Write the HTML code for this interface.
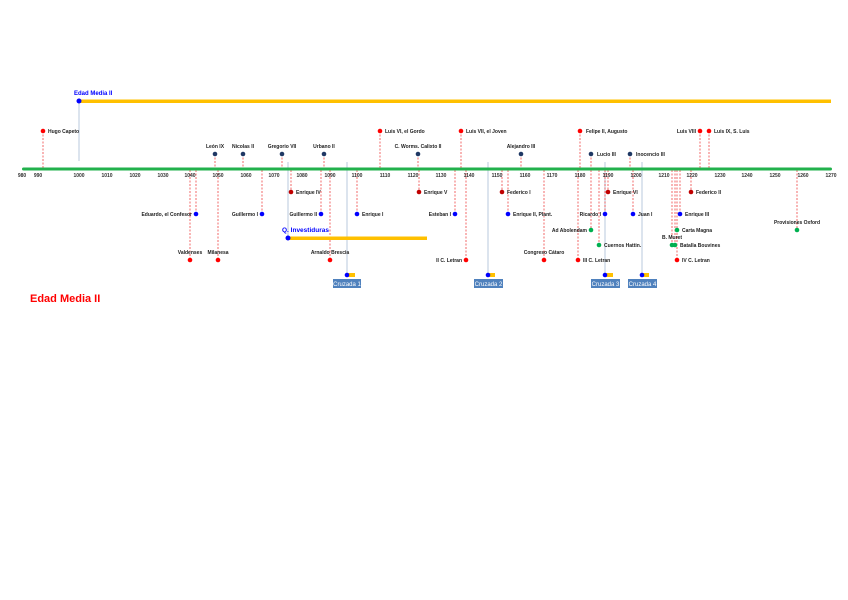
<!DOCTYPE html>
<html><head><meta charset="utf-8"><style>
html,body{margin:0;padding:0;background:#fff;}
svg{display:block;}
text{font-family:"Liberation Sans",sans-serif;font-size:5px;fill:#222;font-weight:bold;}
.ax{font-size:5px;fill:#333;}
.d{stroke:#ee4444;stroke-width:0.8;stroke-dasharray:2,1.5;fill:none;}
.g{stroke:#b8c8dc;stroke-width:1;}
</style></head><body>
<svg width="848" height="600" viewBox="0 0 848 600" xmlns="http://www.w3.org/2000/svg">
<rect width="848" height="600" fill="#fff"/>
<!-- gray vertical lines -->
<line class="g" x1="79" y1="101" x2="79" y2="161"/>
<line class="g" x1="288" y1="162" x2="288" y2="238"/>
<line class="g" x1="347" y1="162" x2="347" y2="275"/>
<line class="g" x1="488" y1="162" x2="488" y2="275"/>
<line class="g" x1="605" y1="162" x2="605" y2="275"/>
<line class="g" x1="642" y1="162" x2="642" y2="275"/>
<!-- dashed lines above -->
<g class="d">
<path d="M43 131V168M215 154V168M243 154V168M282 154V168M324 154V168M380 131V168M418 154V168M461 131V168M521 154V168M580 131V168M591 154V168M630 154V168M700 131V168M709 131V168"/>
<!-- below -->
<path d="M291 170V192M196 170V214M262 170V214M321 170V214M357 170V214M455 170V214M508 170V214M605 170V214M633 170V214M680 170V214"/>
<path d="M419 170V192M502 170V192M608 170V192M691 170V192"/>
<path d="M190 170V260M218 170V260M330 170V260M466 170V260M544 170V260M578 170V260M677 170V260"/>
<path d="M591 170V230M599 170V245M672 170V245M675 170V245M797 170V230"/>
</g>
<!-- timeline -->
<rect x="22" y="167.5" width="810" height="3" rx="1.5" fill="#22b14c"/>
<g class="ax" text-anchor="middle">
<text class="ax" x="22" y="177">980</text><text class="ax" x="38" y="177">990</text><text class="ax" x="79" y="177">1000</text><text class="ax" x="107" y="177">1010</text><text class="ax" x="135" y="177">1020</text><text class="ax" x="163" y="177">1030</text><text class="ax" x="190" y="177">1040</text><text class="ax" x="218" y="177">1050</text><text class="ax" x="246" y="177">1060</text><text class="ax" x="274" y="177">1070</text><text class="ax" x="302" y="177">1080</text><text class="ax" x="330" y="177">1090</text><text class="ax" x="357" y="177">1100</text><text class="ax" x="385" y="177">1110</text><text class="ax" x="413" y="177">1120</text><text class="ax" x="441" y="177">1130</text><text class="ax" x="469" y="177">1140</text><text class="ax" x="497" y="177">1150</text><text class="ax" x="525" y="177">1160</text><text class="ax" x="552" y="177">1170</text><text class="ax" x="580" y="177">1180</text><text class="ax" x="608" y="177">1190</text><text class="ax" x="636" y="177">1200</text><text class="ax" x="664" y="177">1210</text><text class="ax" x="692" y="177">1220</text><text class="ax" x="720" y="177">1230</text><text class="ax" x="747" y="177">1240</text><text class="ax" x="775" y="177">1250</text><text class="ax" x="803" y="177">1260</text><text class="ax" x="831" y="177">1270</text>
</g>
<!-- orange bars -->
<rect x="79" y="99.5" width="752" height="3.5" fill="#ffc000"/>
<rect x="288" y="236.5" width="139" height="3.5" fill="#ffc000"/>
<rect x="347" y="273" width="8" height="4" fill="#ffc000"/>
<rect x="488" y="273" width="7" height="4" fill="#ffc000"/>
<rect x="605" y="273" width="8" height="4" fill="#ffc000"/>
<rect x="642" y="273" width="7" height="4" fill="#ffc000"/>
<!-- dots -->
<g fill="#ff0000">
<circle cx="43" cy="131" r="2.3"/><circle cx="380" cy="131" r="2.3"/><circle cx="461" cy="131" r="2.3"/><circle cx="580" cy="131" r="2.3"/><circle cx="700" cy="131" r="2.3"/><circle cx="709" cy="131" r="2.3"/>
<circle cx="190" cy="260" r="2.3"/><circle cx="218" cy="260" r="2.3"/><circle cx="330" cy="260" r="2.3"/><circle cx="466" cy="260" r="2.3"/><circle cx="544" cy="260" r="2.3"/><circle cx="578" cy="260" r="2.3"/><circle cx="677" cy="260" r="2.3"/>
</g>
<g fill="#c00000">
<circle cx="291" cy="192" r="2.3"/><circle cx="419" cy="192" r="2.3"/><circle cx="502" cy="192" r="2.3"/><circle cx="608" cy="192" r="2.3"/><circle cx="691" cy="192" r="2.3"/>
</g>
<g fill="#1f3864">
<circle cx="215" cy="154" r="2.3"/><circle cx="243" cy="154" r="2.3"/><circle cx="282" cy="154" r="2.3"/><circle cx="324" cy="154" r="2.3"/><circle cx="418" cy="154" r="2.3"/><circle cx="521" cy="154" r="2.3"/><circle cx="591" cy="154" r="2.3"/><circle cx="630" cy="154" r="2.3"/>
</g>
<g fill="#0000ff">
<circle cx="79" cy="101" r="2.5"/><circle cx="288" cy="238" r="2.5"/>
<circle cx="196" cy="214" r="2.3"/><circle cx="262" cy="214" r="2.3"/><circle cx="321" cy="214" r="2.3"/><circle cx="357" cy="214" r="2.3"/><circle cx="455" cy="214" r="2.3"/><circle cx="508" cy="214" r="2.3"/><circle cx="605" cy="214" r="2.3"/><circle cx="633" cy="214" r="2.3"/><circle cx="680" cy="214" r="2.3"/>
<circle cx="347" cy="275" r="2.3"/><circle cx="488" cy="275" r="2.3"/><circle cx="605" cy="275" r="2.3"/><circle cx="642" cy="275" r="2.3"/>
</g>
<g fill="#00b050">
<circle cx="591" cy="230" r="2.3"/><circle cx="599" cy="245" r="2.3"/><circle cx="677" cy="230" r="2.3"/><circle cx="672" cy="245" r="2.3"/><circle cx="675" cy="245" r="2.3"/><circle cx="797" cy="230" r="2.3"/>
</g>
<!-- labels -->
<text x="74" y="95" style="font-size:6px;fill:#0000ff">Edad Media II</text>
<text x="48" y="133">Hugo Capeto</text>
<text x="385" y="133">Luis VI, el Gordo</text>
<text x="466" y="133">Luis VII, el Joven</text>
<text x="586" y="133">Felipe II, Augusto</text>
<text x="696" y="133" text-anchor="end">Luis VIII</text>
<text x="714" y="133">Luis IX, S. Luis</text>
<g text-anchor="middle">
<text x="215" y="148">León IX</text><text x="243" y="148">Nicolas II</text><text x="282" y="148">Gregorio VII</text><text x="324" y="148">Urbano II</text><text x="418" y="148">C. Worms. Calixto II</text><text x="521" y="148">Alejandro III</text>
<text x="190" y="254">Valdenses</text><text x="218" y="254">Milanesa</text><text x="330" y="254">Arnaldo Brescia</text><text x="544" y="254">Congreso Cátaro</text><text x="797" y="224">Provisiones Oxford</text><text x="672" y="239">B. Muret</text>
</g>
<text x="597" y="156">Lucio III</text>
<text x="636" y="156">Inocencio III</text>
<text x="296" y="194">Enrique IV</text>
<text x="424" y="194">Enrique V</text>
<text x="507" y="194">Federico I</text>
<text x="613" y="194">Enrique VI</text>
<text x="696" y="194">Federico II</text>
<g text-anchor="end">
<text x="192" y="216">Eduardo, el Confesor</text><text x="258" y="216">Guillermo I</text><text x="317" y="216">Guillermo II</text><text x="451" y="216">Esteban I</text><text x="601" y="216">Ricardo I</text><text x="587" y="232">Ad Abolendam</text><text x="462" y="262">II C. Letran</text>
</g>
<text x="362" y="216">Enrique I</text>
<text x="513" y="216">Enrique II, Plant.</text>
<text x="638" y="216">Juan I</text>
<text x="685" y="216">Enrique III</text>
<text x="682" y="232">Carta Magna</text>
<text x="604" y="247">Cuernos Hattin.</text>
<text x="680" y="247">Batalla Bouvines</text>
<text x="583" y="262">III C. Letran</text>
<text x="682" y="262">IV C. Letran</text>
<text x="282" y="232" style="font-size:6.5px;fill:#0000ff">Q. Investiduras</text>
<!-- cruzada boxes -->
<g>
<rect x="333" y="279" width="28" height="9" fill="#4f81bd"/><text x="347" y="286" text-anchor="middle" style="fill:#fff;font-weight:normal;font-size:6px">Cruzada 1</text>
<rect x="474" y="279" width="29" height="9" fill="#4f81bd"/><text x="488.5" y="286" text-anchor="middle" style="fill:#fff;font-weight:normal;font-size:6px">Cruzada 2</text>
<rect x="591" y="279" width="29" height="9" fill="#4f81bd"/><text x="605.5" y="286" text-anchor="middle" style="fill:#fff;font-weight:normal;font-size:6px">Cruzada 3</text>
<rect x="628" y="279" width="29" height="9" fill="#4f81bd"/><text x="642.5" y="286" text-anchor="middle" style="fill:#fff;font-weight:normal;font-size:6px">Cruzada 4</text>
</g>
<text x="30" y="302" style="font-size:11px;fill:#ff0000">Edad Media II</text>
</svg>
</body></html>
